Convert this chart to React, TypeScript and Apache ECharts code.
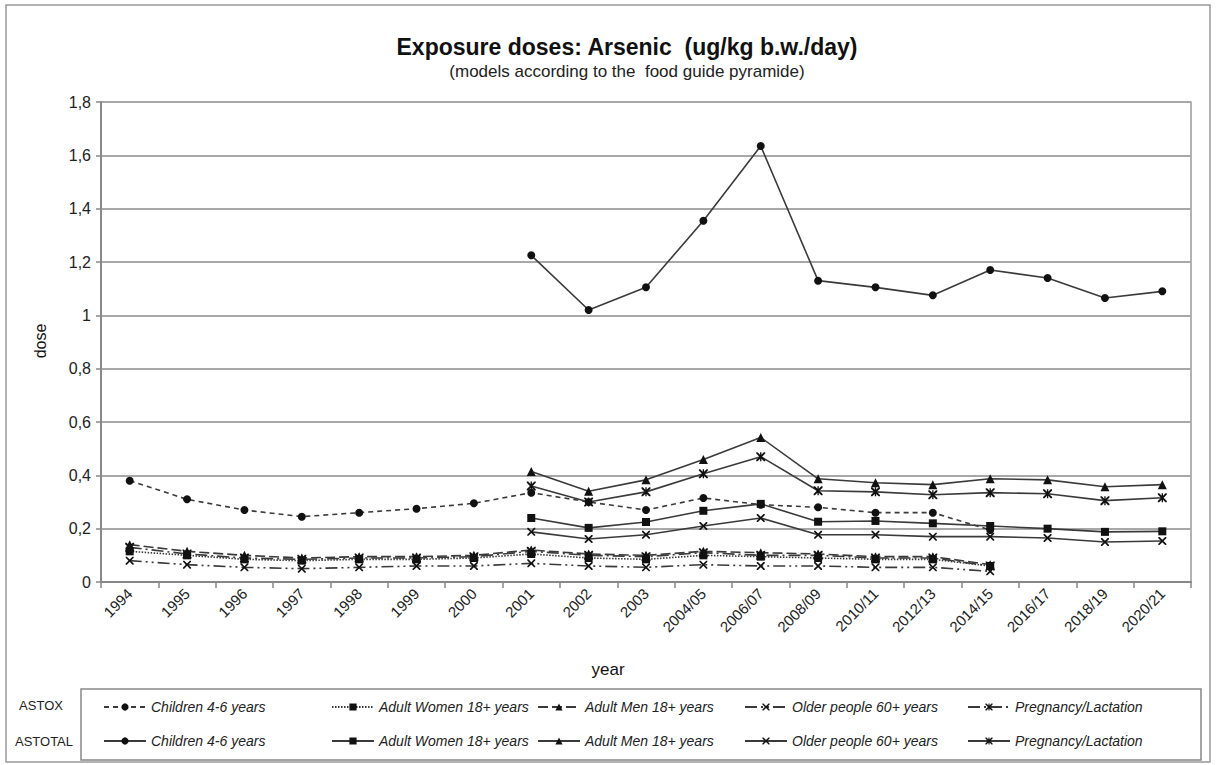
import React, { useEffect, useRef } from "react";
import * as echarts from "echarts";

const categories = ["1994","1995","1996","1997","1998","1999","2000","2001","2002","2003","2004/05","2006/07","2008/09","2010/11","2012/13","2014/15","2016/17","2018/19","2020/21"];

const groupNames = ["Children 4-6 years","Adult Women 18+ years","Adult Men 18+ years","Older people 60+ years","Pregnancy/Lactation"];

// ASTOX (1994 .. 2014/15)
const astoxChildren = [0.38,0.31,0.27,0.245,0.26,0.275,0.295,0.335,0.30,0.27,0.315,0.29,0.28,0.26,0.26,0.195,null,null,null];
const astoxWomen = [0.115,0.1,0.085,0.08,0.085,0.085,0.09,0.105,0.09,0.085,0.1,0.095,0.09,0.085,0.085,0.06,null,null,null];
const astoxMen = [0.14,0.115,0.1,0.09,0.095,0.095,0.1,0.12,0.105,0.1,0.115,0.11,0.105,0.095,0.095,0.065,null,null,null];
const astoxOlder = [0.08,0.065,0.055,0.05,0.055,0.06,0.06,0.07,0.06,0.055,0.065,0.06,0.06,0.055,0.055,0.04,null,null,null];
const astoxPregnancy = [0.13,0.105,0.09,0.085,0.09,0.09,0.095,0.115,0.1,0.095,0.11,0.1,0.1,0.09,0.09,0.06,null,null,null];

// ASTOTAL (2001 .. 2020/21)
const astotalChildren = [null,null,null,null,null,null,null,1.225,1.02,1.105,1.355,1.635,1.13,1.105,1.075,1.17,1.14,1.065,1.09];
const astotalWomen = [null,null,null,null,null,null,null,0.24,0.203,0.225,0.267,0.293,0.226,0.229,0.22,0.21,0.2,0.188,0.19];
const astotalMen = [null,null,null,null,null,null,null,0.414,0.34,0.383,0.459,0.542,0.387,0.372,0.365,0.387,0.383,0.357,0.365];
const astotalOlder = [null,null,null,null,null,null,null,0.188,0.161,0.177,0.21,0.24,0.177,0.177,0.17,0.17,0.165,0.15,0.154];
const astotalPregnancy = [null,null,null,null,null,null,null,0.36,0.30,0.338,0.406,0.47,0.342,0.338,0.327,0.335,0.331,0.305,0.316];

const yTicks = { min: 0, max: 1.8, interval: 0.2 };

const X_PATH = "path://M0,0 L3,0 L10,7 L17,0 L20,0 L20,3 L13,10 L20,17 L20,20 L17,20 L10,13 L3,20 L0,20 L0,17 L7,10 L0,3 Z";
const STAR_PATH = "path://M0,0 L3,0 L8.5,5.5 L8.5,0 L11.5,0 L11.5,5.5 L17,0 L20,0 L20,3 L13,10 L20,17 L20,20 L17,20 L11.5,14.5 L11.5,20 L8.5,20 L8.5,14.5 L3,20 L0,20 L0,17 L7,10 L0,3 Z";

const symbols = ["circle", "rect", "triangle", X_PATH, STAR_PATH];
const symbolSizes = [8, 8, 9, 8, 9];
const astoxDash: any[] = [[5, 4], [1.5, 1.5], [10, 4], [12, 4, 2, 4, 2, 4], [12, 4, 2, 4]];

export default function App() {
  const ref = useRef<HTMLDivElement>(null);
  useEffect(() => {
    if (!ref.current) return;
    const chart = echarts.init(ref.current, null, { renderer: "svg" });
    const astox = [astoxChildren, astoxWomen, astoxMen, astoxOlder, astoxPregnancy];
    const astotal = [astotalChildren, astotalWomen, astotalMen, astotalOlder, astotalPregnancy];
    const lineColor = "#3a3a3a";
    const series: any[] = [];
    groupNames.forEach((g, i) => {
      series.push({
        name: "ASTOX " + g,
        type: "line",
        data: astox[i],
        symbol: symbols[i],
        symbolSize: symbolSizes[i],
        connectNulls: false,
        lineStyle: { color: lineColor, width: 1.6, type: astoxDash[i] },
        itemStyle: { color: "#111" },
      });
    });
    groupNames.forEach((g, i) => {
      series.push({
        name: "ASTOTAL " + g,
        type: "line",
        data: astotal[i],
        symbol: symbols[i],
        symbolSize: symbolSizes[i],
        lineStyle: { color: lineColor, width: 1.6, type: "solid" },
        itemStyle: { color: "#111" },
      });
    });
    const legendX = [103, 331, 537, 744, 967];
    const rowY = [707, 741];
    const font = "Liberation Sans, Arial, sans-serif";
    const legends: any[] = [];
    ["ASTOX", "ASTOTAL"].forEach((p, r) => {
      groupNames.forEach((g, i) => {
        legends.push({
          data: [p + " " + g],
          left: legendX[i] - 5,
          top: rowY[r] - 12,
          itemWidth: 42,
          itemHeight: 9,
          itemGap: 0,
          selectedMode: false,
          formatter: (n: string) => n.replace(/^(ASTOX|ASTOTAL) /, ""),
          textStyle: { fontFamily: font, fontStyle: "italic", fontSize: 14, color: "#222" },
        });
      });
    });
    chart.setOption({
      animation: false,
      backgroundColor: "#fff",
      textStyle: { fontFamily: font },
      grid: { left: 101, right: 26, top: 102, bottom: 183, show: true, borderColor: "#999", borderWidth: 1.5 },
      legend: legends,
      xAxis: {
        type: "category",
        data: categories,
        boundaryGap: true,
        axisLine: { lineStyle: { color: "#888", width: 2 } },
        axisTick: { show: true, length: 6, lineStyle: { color: "#888", width: 1.5 } },
        axisLabel: { rotate: 45, fontSize: 15, color: "#222", margin: 9, fontFamily: font },
        splitLine: { show: false },
      },
      yAxis: {
        type: "value",
        min: yTicks.min,
        max: yTicks.max,
        interval: yTicks.interval,
        axisLine: { show: true, lineStyle: { color: "#888", width: 2 } },
        axisTick: { show: true, length: 5, lineStyle: { color: "#888", width: 1.5 } },
        axisLabel: {
          fontSize: 16,
          color: "#222",
          margin: 10,
          fontFamily: font,
          formatter: (v: number) => String(Math.round(v * 10) / 10).replace(".", ","),
        },
        splitLine: { lineStyle: { color: "#a8a8a8", width: 2 } },
      },
      series,
      graphic: [
        { type: "rect", shape: { x: 6, y: 5, width: 1204, height: 757 }, style: { fill: "none", stroke: "#999", lineWidth: 1.5 }, silent: true, z: -1 },
        { type: "rect", shape: { x: 81, y: 689, width: 1120, height: 71 }, style: { fill: "none", stroke: "#888", lineWidth: 1.5 }, silent: true },
        { type: "text", x: 627, y: 47, style: { text: "Exposure doses: Arsenic  (ug/kg b.w./day)", fill: "#111", font: "bold 23px " + font, textAlign: "center", textVerticalAlign: "middle" } },
        { type: "text", x: 627, y: 71, style: { text: "(models according to the  food guide pyramide)", fill: "#222", font: "17px " + font, textAlign: "center", textVerticalAlign: "middle" } },
        { type: "text", x: 608, y: 669, style: { text: "year", fill: "#111", font: "17px " + font, textAlign: "center", textVerticalAlign: "middle" } },
        { type: "text", x: 40, y: 341, rotation: Math.PI / 2, style: { text: "dose", fill: "#111", font: "16px " + font, textAlign: "center", textVerticalAlign: "middle" } },
        { type: "text", x: 41, y: 705, style: { text: "ASTOX", fill: "#222", font: "13px " + font, textAlign: "center", textVerticalAlign: "middle" } },
        { type: "text", x: 44, y: 741, style: { text: "ASTOTAL", fill: "#222", font: "13px " + font, textAlign: "center", textVerticalAlign: "middle" } },
      ],
    });
    return () => chart.dispose();
  }, []);
  return <div ref={ref} style={{ position: "fixed", left: 0, top: 0, width: 1217, height: 765 }} />;
}
